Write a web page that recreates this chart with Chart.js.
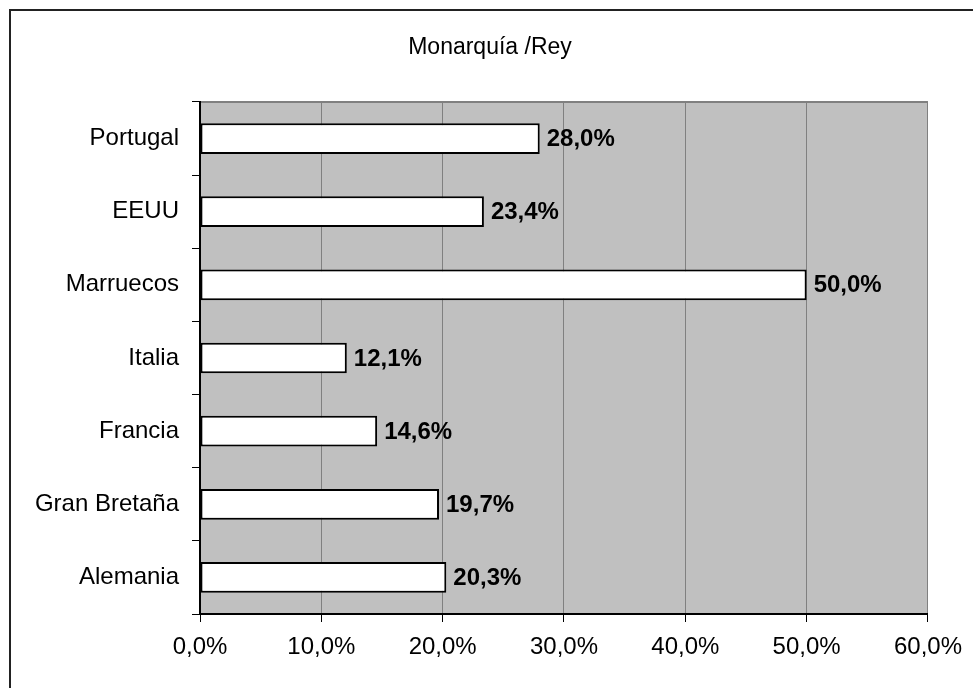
<!DOCTYPE html>
<html>
<head>
<meta charset="utf-8">
<script src="https://cdn.jsdelivr.net/npm/chart.js@4"></script>
<style>
html,body{margin:0;padding:0;background:#fff;}
#wrap{width:973px;height:688px;position:relative;}
</style>
</head>
<body>
<div id="wrap"><canvas id="c" width="973" height="688"></canvas></div>
<script>
const titleText = 'Monarquía /Rey';
const categories = ['Portugal', 'EEUU', 'Marruecos', 'Italia', 'Francia', 'Gran Bretaña', 'Alemania'];
const values = [28.0, 23.4, 50.0, 12.1, 14.6, 19.7, 20.3];
const axisMin = 0, axisMax = 60, axisStep = 10;

const FONT = "'Liberation Sans', Arial, sans-serif";
const fmt = v => v.toFixed(1).replace('.', ',') + '%';

const framePlugin = {
  id: 'frame',
  beforeDraw(chart) {
    const ctx = chart.ctx, a = chart.chartArea;
    ctx.save();
    ctx.fillStyle = '#ffffff';
    ctx.fillRect(0, 0, chart.width, chart.height);
    ctx.fillStyle = '#c0c0c0';
    ctx.fillRect(a.left, a.top, a.right - a.left, a.bottom - a.top);
    ctx.strokeStyle = '#808080';
    ctx.lineWidth = 2;
    ctx.beginPath();
    ctx.moveTo(a.left, a.top);
    ctx.lineTo(a.right, a.top);
    ctx.stroke();
    ctx.strokeStyle = '#222';
    ctx.lineWidth = 2;
    ctx.strokeRect(10, 10, 2000, 2000);
    ctx.fillStyle = '#000';
    ctx.font = '23px ' + FONT;
    ctx.textAlign = 'center';
    ctx.textBaseline = 'middle';
    ctx.fillText(titleText, 490, 48);
    ctx.restore();
  },
  afterDatasetsDraw(chart) {
    const ctx = chart.ctx;
    const meta = chart.getDatasetMeta(0);
    ctx.save();
    ctx.fillStyle = '#000';
    ctx.font = 'bold 24px ' + FONT;
    ctx.textAlign = 'left';
    ctx.textBaseline = 'middle';
    meta.data.forEach((bar, i) => {
      ctx.fillText(fmt(values[i]), bar.x + 7, bar.y + 1);
    });
    ctx.restore();
  }
};

new Chart(document.getElementById('c'), {
  type: 'bar',
  data: {
    labels: categories,
    datasets: [{
      data: values,
      backgroundColor: '#ffffff',
      borderColor: '#000000',
      borderWidth: 2,
      borderSkipped: false,
      categoryPercentage: 1,
      barPercentage: 0.42
    }]
  },
  options: {
    indexAxis: 'y',
    responsive: false,
    animation: false,
    devicePixelRatio: 1,
    layout: { padding: { top: 102, right: 45, bottom: 0, left: 0 } },
    plugins: { legend: { display: false }, title: { display: false }, tooltip: { enabled: false } },
    scales: {
      x: {
        min: axisMin, max: axisMax,
        ticks: {
          stepSize: axisStep,
          callback: v => fmt(v),
          color: '#000',
          font: { family: FONT, size: 24 },
          padding: 11,
          maxRotation: 0
        },
        grid: { color: '#808080', lineWidth: 1, tickLength: 8, tickColor: '#000' },
        border: { color: '#000', width: 2 },
        afterFit(s) { s.height = 74; }
      },
      y: {
        ticks: {
          color: '#000',
          font: { family: FONT, size: 24 },
          padding: 13
        },
        grid: { offset: true, drawOnChartArea: false, tickLength: 8, tickColor: '#000', lineWidth: 1 },
        border: { color: '#000', width: 2 },
        afterFit(s) { s.width = 200; }
      }
    }
  },
  plugins: [framePlugin]
});
</script>
</body>
</html>
